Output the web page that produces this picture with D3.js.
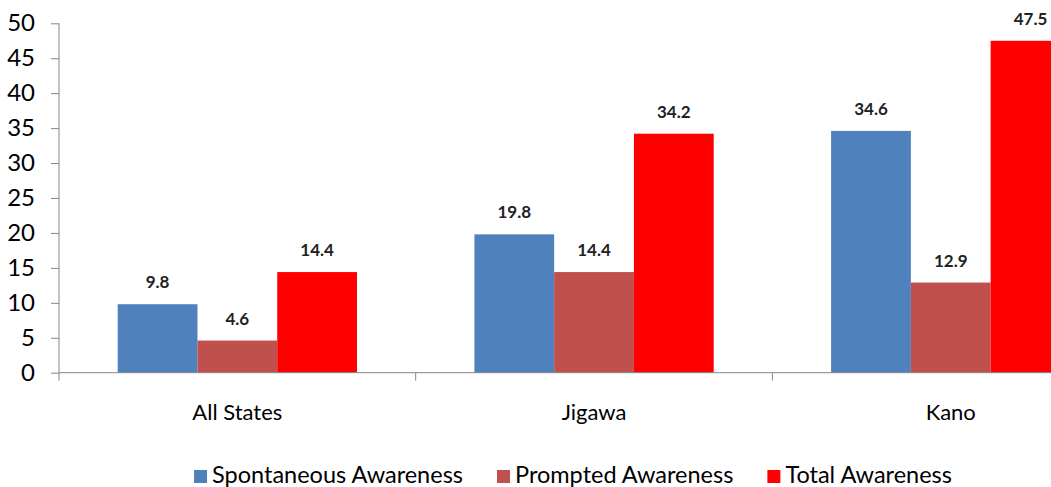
<!DOCTYPE html>
<html>
<head>
<meta charset="utf-8">
<script src="https://cdn.jsdelivr.net/npm/d3@7"></script>
<style>
  html, body { margin: 0; padding: 0; background: #fff; }
  svg { display: block; font-family: Lato, "Open Sans", sans-serif; }
</style>
</head>
<body>
<svg id="chart" width="1051" height="487"></svg>
<script>
// Awareness (%) by state
const categories = ["All States", "Jigawa", "Kano"];
const seriesNames = ["Spontaneous Awareness", "Prompted Awareness", "Total Awareness"];
const spontaneous = [9.8, 19.8, 34.6];
const prompted = [4.6, 14.4, 12.9];
const total = [14.4, 34.2, 47.5];
const yTicks = [0, 5, 10, 15, 20, 25, 30, 35, 40, 45, 50];
const colors = ["#4F81BD", "#C0504D", "#FF0000"];

const seriesValues = [spontaneous, prompted, total];
const rows = categories.map((c, i) => ({
  category: c,
  values: seriesNames.map((s, j) => ({ series: s, value: seriesValues[j][i], color: colors[j] }))
}));

const svg = d3.select("#chart");
const axisColor = "#868686";

// plot area: the third category runs past the right edge of the canvas
const left = 59, zeroY = 372.7, topY = 23.3, step = 356.7;
const x0 = d3.scaleBand().domain(categories).range([left, left + step * categories.length]).padding(0);
const x1 = d3.scaleBand().domain(seriesNames).range([58.7, step - 58.7]).padding(0);
const y = d3.scaleLinear().domain([0, 50]).range([zeroY, topY]);

// bars
const groups = svg.append("g").selectAll("g").data(rows).join("g")
  .attr("transform", d => `translate(${x0(d.category)},0)`);

groups.selectAll("rect").data(d => d.values).join("rect")
  .attr("x", d => x1(d.series))
  .attr("y", d => y(d.value))
  .attr("width", x1.bandwidth())
  .attr("height", d => y(0) - y(d.value))
  .attr("fill", d => d.color);

// value labels
groups.selectAll("text.val").data(d => d.values).join("text")
  .attr("class", "val")
  .attr("x", d => x1(d.series) + x1.bandwidth() / 2)
  .attr("y", d => y(d.value) - 16)
  .attr("text-anchor", "middle")
  .attr("font-size", 17)
  .attr("font-weight", "bold")
  .attr("fill", "#222")
  .text(d => d.value.toFixed(1));

// y axis
const yAxis = svg.append("g")
  .attr("transform", `translate(${left},0)`)
  .call(d3.axisLeft(y).tickValues(yTicks).tickSize(8).tickPadding(16).tickFormat(d3.format("d")));
yAxis.select(".domain").attr("stroke", axisColor).attr("d", `M0,${topY}V${zeroY + 8}`);
yAxis.selectAll(".tick line").attr("stroke", axisColor);
yAxis.selectAll(".tick text")
  .attr("font-family", "Lato, 'Open Sans', sans-serif")
  .attr("font-size", 24)
  .attr("fill", "#000");

// x axis with category labels centred in each band
const xAxis = svg.append("g")
  .attr("transform", `translate(0,${zeroY})`)
  .call(d3.axisBottom(x0).tickSize(0).tickPadding(47));
xAxis.select(".domain").attr("stroke", axisColor).attr("d", `M${left},0H${left + step * categories.length}`);
xAxis.selectAll(".tick text")
  .attr("font-family", "Lato, 'Open Sans', sans-serif")
  .attr("font-size", 22)
  .attr("fill", "#000")
  .attr("dy", 0);

// tick marks at category boundaries
const bounds = d3.range(1, categories.length + 1).map(i => left + step * i);
xAxis.selectAll("line.bound").data(bounds).join("line")
  .attr("class", "bound")
  .attr("x1", d => d).attr("x2", d => d)
  .attr("y1", 0).attr("y2", 8)
  .attr("stroke", axisColor);

// legend
const legend = svg.append("g").attr("transform", "translate(0,476)");
const items = legend.selectAll("g").data(seriesNames.map((s, i) => ({ name: s, color: colors[i] }))).join("g");
items.append("rect")
  .attr("x", 0).attr("y", -6).attr("width", 13).attr("height", 13)
  .attr("fill", d => d.color);
items.append("text")
  .attr("x", 18).attr("y", 7)
  .attr("font-size", 23.5)
  .attr("fill", "#000")
  .text(d => d.name);

const widths = [];
items.each(function () {
  widths.push(this.getBBox().width);
});
const gap = 34;
const totalW = d3.sum(widths) + gap * (widths.length - 1);
let cursor = 573 - totalW / 2;
items.attr("transform", (d, i) => {
  const t = `translate(${cursor},0)`;
  cursor += widths[i] + gap;
  return t;
});
</script>
</body>
</html>
